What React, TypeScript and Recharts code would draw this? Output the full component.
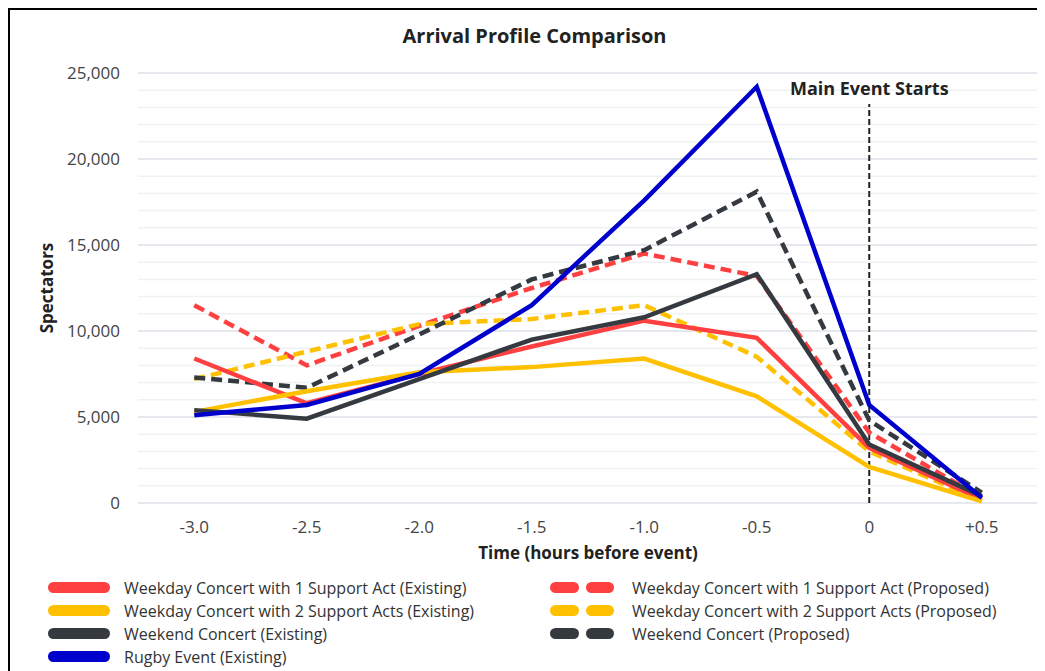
import React from 'react';
import {
  LineChart,
  Line,
  XAxis,
  YAxis,
  CartesianGrid,
  ReferenceLine,
} from 'recharts';

// hours relative to the main event
const times = [-3.0, -2.5, -2.0, -1.5, -1.0, -0.5, 0, 0.5];
const timeLabels = ['-3.0', '-2.5', '-2.0', '-1.5', '-1.0', '-0.5', '0', '+0.5'];

const weekday1Existing = [8400, 5800, 7500, 9100, 10600, 9600, 3200, 200];
const weekday2Existing = [5300, 6500, 7600, 7900, 8400, 6200, 2100, 100];
const weekendExisting = [5400, 4900, 7200, 9500, 10800, 13300, 3400, 400];
const rugbyExisting = [5100, 5700, 7500, 11500, 17600, 24200, 5700, 300];
const weekday1Proposed = [11500, 8000, 10300, 12500, 14500, 13200, 4100, 300];
const weekday2Proposed = [7200, 8800, 10400, 10700, 11500, 8500, 3000, 100];
const weekendProposed = [7300, 6700, 9800, 13000, 14700, 18100, 4800, 600];

const majorTicks = [0, 5000, 10000, 15000, 20000, 25000];
const minorTicks = [
  1000, 2000, 3000, 4000, 6000, 7000, 8000, 9000, 11000, 12000, 13000, 14000,
  16000, 17000, 18000, 19000, 21000, 22000, 23000, 24000,
];

const existingSeries = [
  { key: 'w1e', name: 'Weekday Concert with 1 Support Act (Existing)', values: weekday1Existing },
  { key: 'w2e', name: 'Weekday Concert with 2 Support Acts (Existing)', values: weekday2Existing },
  { key: 'wke', name: 'Weekend Concert (Existing)', values: weekendExisting },
  { key: 'rge', name: 'Rugby Event (Existing)', values: rugbyExisting },
];
const proposedSeries = [
  { key: 'w1p', name: 'Weekday Concert with 1 Support Act (Proposed)', values: weekday1Proposed },
  { key: 'w2p', name: 'Weekday Concert with 2 Support Acts (Proposed)', values: weekday2Proposed },
  { key: 'wkp', name: 'Weekend Concert (Proposed)', values: weekendProposed },
];

const colors: Record<string, string> = {
  w1e: '#ff4040',
  w2e: '#ffc000',
  wke: '#343a40',
  rge: '#0000cc',
  w1p: '#ff4040',
  w2p: '#ffc000',
  wkp: '#343a40',
};

const data = times.map((t, i) => {
  const row: Record<string, number> = { t };
  [...existingSeries, ...proposedSeries].forEach((s) => {
    row[s.key] = s.values[i];
  });
  return row;
});

const fmtTime = (v: number) => timeLabels[times.indexOf(v)] ?? String(v);
const fmtNum = (v: number) => v.toLocaleString('en-US');

function Swatch({ color, dashed }: { color: string; dashed?: boolean }) {
  if (dashed) {
    return (
      <span style={{ display: 'inline-flex', gap: 7, width: 64 }}>
        <span style={{ width: 29, height: 11, borderRadius: 6, background: color }} />
        <span style={{ width: 28, height: 11, borderRadius: 6, background: color }} />
      </span>
    );
  }
  return <span style={{ display: 'inline-block', width: 62, height: 11, borderRadius: 6, background: color }} />;
}

function ChartLegend() {
  const rowStyle: React.CSSProperties = {
    display: 'flex',
    alignItems: 'center',
    height: 23,
    fontSize: 16,
    color: '#333',
    whiteSpace: 'nowrap',
  };
  return (
    <div style={{ position: 'absolute', top: 566, left: 0, width: 1035, height: 95 }}>
      <div style={{ position: 'absolute', left: 38, top: 0 }}>
        {existingSeries.map((s) => (
          <div key={s.key} style={rowStyle}>
            <Swatch color={colors[s.key]} />
            <span style={{ marginLeft: 14 }}>{s.name}</span>
          </div>
        ))}
      </div>
      <div style={{ position: 'absolute', left: 540, top: 0 }}>
        {proposedSeries.map((s) => (
          <div key={s.key} style={rowStyle}>
            <Swatch color={colors[s.key]} dashed />
            <span style={{ marginLeft: 18 }}>{s.name}</span>
          </div>
        ))}
      </div>
    </div>
  );
}

export default function App() {
  return (
    <div
      style={{
        position: 'relative',
        width: 1035,
        height: 661,
        borderTop: '2px solid #000',
        borderLeft: '2px solid #000',
        fontFamily: '"Open Sans", sans-serif',
        background: '#fff',
      }}
    >
      <div
        style={{
          position: 'absolute',
          left: 7,
          width: 1035,
          top: 13,
          textAlign: 'center',
          fontSize: 20,
          fontWeight: 700,
          color: '#222',
          lineHeight: '26px',
          zIndex: 2,
        }}
      >
        Arrival Profile Comparison
      </div>
      <LineChart
        width={1035}
        height={661}
        data={data}
        margin={{ top: 63, right: 7, bottom: 103, left: 30 }}
      >
        <CartesianGrid vertical={false} stroke="#dde2e8" strokeWidth={1.5} />
        {minorTicks.map((v) => (
          <ReferenceLine key={v} y={v} stroke="#eff1f3" strokeWidth={1.5} />
        ))}
        <XAxis
          dataKey="t"
          type="number"
          domain={[-3.25, 0.75]}
          ticks={times}
          tickFormatter={fmtTime}
          axisLine={false}
          tickLine={false}
          tickSize={0}
          tickMargin={18}
          height={65}
          tick={{ fontSize: 17, fill: '#444' }}
          label={{
            value: 'Time (hours before event)',
            position: 'insideBottom',
            offset: 9,
            fontSize: 17,
            fontWeight: 700,
            fill: '#222',
          }}
        />
        <YAxis
          domain={[0, 25000]}
          ticks={majorTicks}
          tickFormatter={fmtNum}
          axisLine={false}
          tickLine={false}
          tickSize={0}
          tickMargin={18}
          width={98}
          tick={{ fontSize: 17, fill: '#444' }}
          label={{
            value: 'Spectators',
            angle: -90,
            position: 'insideLeft',
            offset: 7,
            fontSize: 17,
            fontWeight: 700,
            fill: '#222',
            style: { textAnchor: 'middle' },
          }}
        />
        <ReferenceLine
          segment={[
            { x: 0, y: 0 },
            { x: 0, y: 23200 },
          ]}
          stroke="#222"
          strokeWidth={2}
          strokeDasharray="6 3"
          label={{
            value: 'Main Event Starts',
            position: 'top',
            offset: 9,
            fontSize: 18,
            fontWeight: 700,
            fill: '#222',
          }}
        />
        {proposedSeries.map((s) => (
          <Line
            key={s.key}
            type="linear"
            dataKey={s.key}
            name={s.name}
            stroke={colors[s.key]}
            strokeWidth={4.5}
            strokeDasharray="11 6"
            dot={false}
            activeDot={false}
            isAnimationActive={false}
          />
        ))}
        {existingSeries.map((s) => (
          <Line
            key={s.key}
            type="linear"
            dataKey={s.key}
            name={s.name}
            stroke={colors[s.key]}
            strokeWidth={4.5}
            dot={false}
            activeDot={false}
            isAnimationActive={false}
          />
        ))}
      </LineChart>
      <ChartLegend />
    </div>
  );
}
